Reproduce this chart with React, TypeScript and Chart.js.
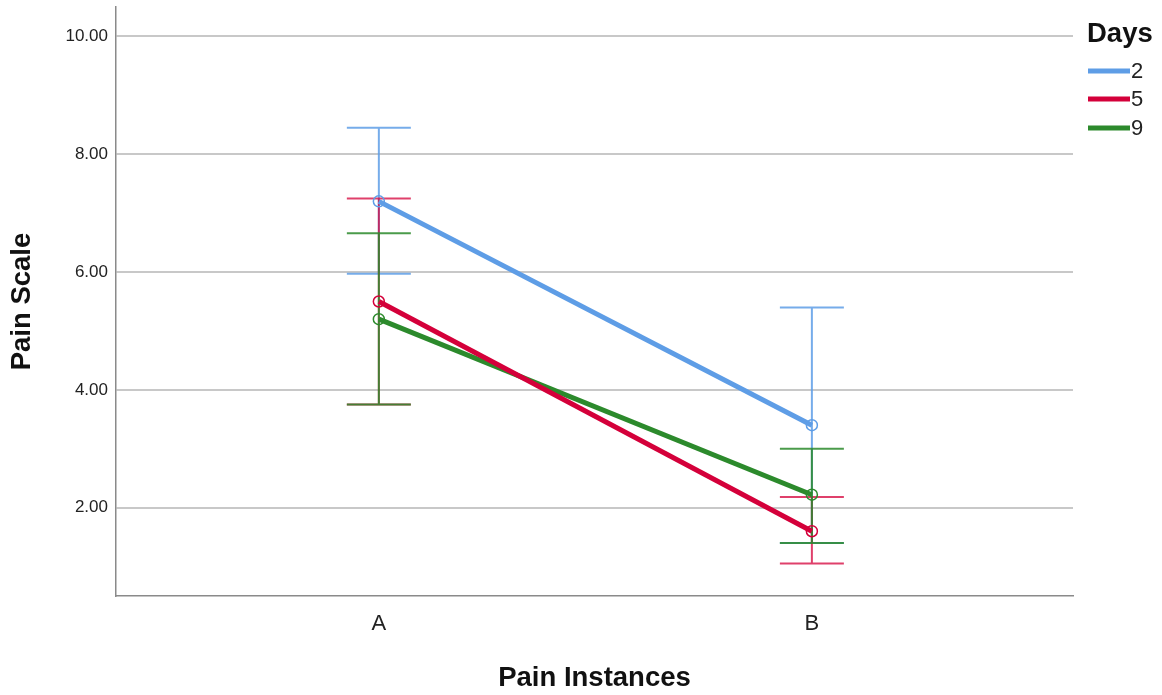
import React, { useEffect, useRef } from "react";
import { Chart, registerables } from "chart.js";

Chart.register(...registerables);

const categories = ["A", "B"];
const seriesLabels = ["2", "5", "9"];
const means2 = [7.2, 3.4];
const lower2 = [5.97, 1.4];
const upper2 = [8.45, 5.4];
const means5 = [5.5, 1.6];
const lower5 = [3.75, 1.05];
const upper5 = [7.25, 2.18];
const means9 = [5.2, 2.22];
const lower9 = [3.75, 1.4];
const upper9 = [6.66, 3.0];
const yTicks = [2, 4, 6, 8, 10];

const lineColors = ["#5e9de6", "#d4003a", "#2c8a2c"];
const barColors = ["rgba(94,157,230,0.85)", "rgba(212,0,58,0.75)", "rgba(44,138,44,0.85)"];
const FONT = "'Liberation Sans', Arial, sans-serif";

const allMeans = [means2, means5, means9];
const allLower = [lower2, lower5, lower9];
const allUpper = [upper2, upper5, upper9];

const errorBarPlugin = {
  id: "errorBars",
  beforeDatasetsDraw(chart: any) {
    const xs = chart.scales.x;
    const ys = chart.scales.y;
    const ctx = chart.ctx;
    ctx.save();
    for (let i = 0; i < allMeans.length; i++) {
      ctx.strokeStyle = barColors[i];
      ctx.lineWidth = 2;
      for (let j = 0; j < categories.length; j++) {
        const x = xs.getPixelForValue(j);
        const yl = ys.getPixelForValue(allLower[i][j]);
        const yu = ys.getPixelForValue(allUpper[i][j]);
        ctx.beginPath();
        ctx.moveTo(x, yl);
        ctx.lineTo(x, yu);
        ctx.moveTo(x - 32, yl);
        ctx.lineTo(x + 32, yl);
        ctx.moveTo(x - 32, yu);
        ctx.lineTo(x + 32, yu);
        ctx.stroke();
      }
    }
    ctx.restore();
  },
};

const legendPlugin = {
  id: "customLegend",
  afterDraw(chart: any) {
    const ctx = chart.ctx;
    ctx.save();
    ctx.fillStyle = "#111";
    ctx.font = `bold 27.5px ${FONT}`;
    ctx.textAlign = "left";
    ctx.textBaseline = "middle";
    ctx.fillText("Days", 1087, 34);
    ctx.font = `22px ${FONT}`;
    const ys = [71, 99, 128];
    for (let i = 0; i < seriesLabels.length; i++) {
      ctx.strokeStyle = lineColors[i];
      ctx.lineWidth = 5;
      ctx.beginPath();
      ctx.moveTo(1088, ys[i]);
      ctx.lineTo(1130, ys[i]);
      ctx.stroke();
      ctx.fillStyle = "#222";
      ctx.fillText(seriesLabels[i], 1131, ys[i] + 1);
    }
    ctx.restore();
  },
};

export default function App() {
  const ref = useRef<HTMLCanvasElement | null>(null);
  useEffect(() => {
    if (!ref.current) return;
    const datasets = allMeans.map((m, i) => ({
      label: seriesLabels[i],
      data: m.map((v, j) => ({ x: j, y: v })),
      borderColor: lineColors[i],
      borderWidth: 5,
      pointRadius: 5.5,
      pointBorderWidth: 1.5,
      pointBorderColor: lineColors[i],
      pointBackgroundColor: "rgba(0,0,0,0)",
      fill: false,
      tension: 0,
    }));
    const chart = new Chart(ref.current, {
      type: "line",
      data: { datasets },
      plugins: [errorBarPlugin, legendPlugin],
      options: {
        animation: false,
        responsive: true,
        maintainAspectRatio: false,
        layout: { padding: { top: 5, right: 89, left: 0, bottom: 0 } },
        plugins: { legend: { display: false }, tooltip: { enabled: false } },
        scales: {
          x: {
            type: "linear",
            min: -0.607,
            max: 1.603,
            afterBuildTicks: (s: any) => {
              s.ticks = categories.map((_, j) => ({ value: j }));
            },
            afterFit: (s: any) => {
              s.height = 99;
              s.paddingLeft = 0;
              s.paddingRight = 0;
            },
            ticks: {
              callback: (v: any) => categories[v] ?? "",
              font: { family: FONT, size: 22 },
              color: "#222",
              padding: 15,
            },
            grid: { display: false, drawTicks: false },
            border: { display: true, color: "#8a8a8a", width: 1.5 },
            title: {
              display: true,
              text: "Pain Instances",
              font: { family: FONT, size: 27.5, weight: "bold" },
              color: "#111",
              padding: { top: 0, bottom: 0 },
            },
          },
          y: {
            type: "linear",
            min: 0.5,
            max: 10.5,
            afterBuildTicks: (s: any) => {
              s.ticks = yTicks.map((v) => ({ value: v }));
            },
            afterFit: (s: any) => {
              s.width = 116;
              s.paddingTop = 0;
              s.paddingBottom = 0;
            },
            ticks: {
              callback: (v: any) => Number(v).toFixed(2),
              font: { family: FONT, size: 17 },
              color: "#222",
              padding: 8,
            },
            grid: { color: "#c8c8c8", lineWidth: 2, drawTicks: false },
            border: { display: true, color: "#8a8a8a", width: 1.5 },
            title: {
              display: true,
              text: "Pain Scale",
              font: { family: FONT, size: 27.5, weight: "bold" },
              color: "#111",
              padding: { top: 6, bottom: 0 },
            },
          },
        },
      } as any,
    });
    return () => chart.destroy();
  }, []);
  return (
    <div style={{ position: "absolute", left: 0, top: 0, width: 1162, height: 695, background: "#fff" }}>
      <canvas ref={ref} />
    </div>
  );
}
